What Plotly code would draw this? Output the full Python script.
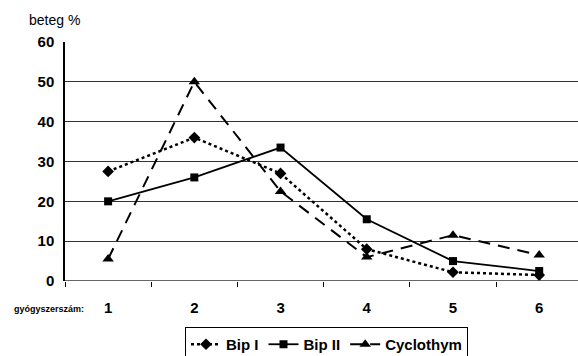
import plotly.graph_objects as go

categories = ["1", "2", "3", "4", "5", "6"]
bip1 = [27.5, 36, 27, 8, 2.2, 1.5]
bip2 = [20, 26, 33.5, 15.5, 5, 2.5]
cyclo = [5.5, 50, 22.5, 6, 11.5, 6.5]
y_ticks = [0, 10, 20, 30, 40, 50, 60]

fig = go.Figure()
fig.add_trace(go.Scatter(x=categories, y=bip1, name="Bip I", mode="lines+markers",
                         line=dict(color="black", width=2.5, dash="dot"),
                         marker=dict(symbol="diamond", size=9, color="black")))
fig.add_trace(go.Scatter(x=categories, y=bip2, name="Bip II", mode="lines+markers",
                         line=dict(color="black", width=1.8),
                         marker=dict(symbol="square", size=8, color="black")))
fig.add_trace(go.Scatter(x=categories, y=cyclo, name="Cyclothym", mode="lines+markers",
                         line=dict(color="black", width=2, dash="12px,8px"),
                         marker=dict(symbol="triangle-up", size=10, color="black")))

W, H = 578, 356
L, R, T, B = 65, 0, 42, 75
pw, ph = W - L - R, H - T - B

fig.update_layout(
    width=W, height=H,
    margin=dict(l=L, r=R, t=T, b=B, autoexpand=False),
    plot_bgcolor="white", paper_bgcolor="white",
    font=dict(family="Liberation Sans, Arial, sans-serif", color="black"),
    showlegend=True,
    legend=dict(orientation="h", xref="container", yref="container",
                x=185 / W, y=1 - 327 / H, xanchor="left", yanchor="top",
                bordercolor="black", borderwidth=1, bgcolor="white",
                font=dict(size=15, family="Liberation Sans, Arial, sans-serif", weight="bold"),
                itemwidth=30, tracegroupgap=0),
    xaxis=dict(type="category", range=[-0.5, 5.45], tickson="boundaries",
               ticks="outside", ticklen=5, tickcolor="black", showgrid=False,
               showline=False, zeroline=False, ticklabelstandoff=16,
               tickfont=dict(size=15, weight="bold")),
    yaxis=dict(range=[0, 60], tickvals=y_ticks, showgrid=True, gridcolor="#333",
               gridwidth=1, showline=True, linecolor="black", linewidth=1.5,
               zeroline=False, ticks="", ticklen=0, ticklabelstandoff=6,
               tickfont=dict(size=15, weight="bold")),
    annotations=[
        dict(text="beteg %", x=(27 - L) / pw, y=(T + ph - 20) / ph, xref="paper", yref="paper",
             showarrow=False, font=dict(size=14), xanchor="left", yanchor="middle"),
        dict(text="gyógyszerszám:", x=(12 - L) / pw, y=(T + ph - 309) / ph, xref="paper",
             yref="paper", showarrow=False, font=dict(size=9, weight="bold"),
             xanchor="left", yanchor="middle"),
    ],
)

# bottom gridline at 0
fig.add_shape(type="line", xref="paper", yref="y", x0=0, x1=1, y0=0, y1=0,
              line=dict(color="#333", width=1.5))

fig.write_html("out.html")
